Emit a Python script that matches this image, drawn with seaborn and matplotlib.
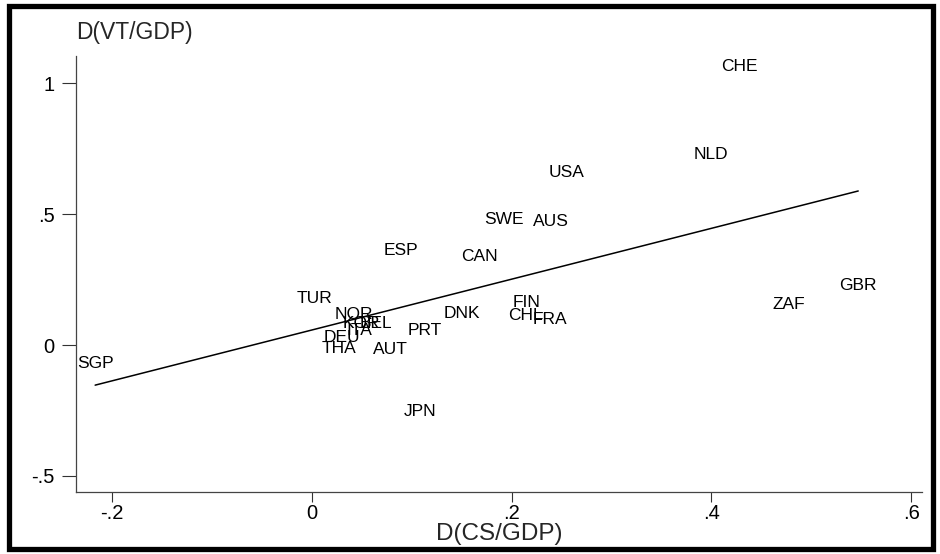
import matplotlib
matplotlib.use('Agg')
import matplotlib.pyplot as plt
import numpy as np
import pandas as pd
import seaborn as sns
from matplotlib.patches import Rectangle

# country codes and values (labels sit centred on the points)
countries = ['CHE', 'NLD', 'USA', 'SWE', 'AUS', 'ESP', 'CAN', 'GBR', 'ZAF', 'TUR',
             'FIN', 'DNK', 'CHL', 'FRA', 'NOR', 'KOR', 'BEL', 'ITA', 'DEU', 'THA',
             'AUT', 'PRT', 'JPN', 'SGP']
d_cs = [0.428, 0.400, 0.255, 0.192, 0.239, 0.089, 0.168, 0.547, 0.478, 0.003,
        0.215, 0.150, 0.214, 0.238, 0.042, 0.050, 0.064, 0.047, 0.030, 0.027,
        0.079, 0.113, 0.108, -0.217]
d_vt = [1.062, 0.728, 0.658, 0.480, 0.471, 0.360, 0.337, 0.226, 0.155, 0.179,
        0.161, 0.121, 0.111, 0.098, 0.118, 0.083, 0.084, 0.057, 0.029, -0.013,
        -0.016, 0.057, -0.255, -0.070]

x_ticks = [-0.2, 0, 0.2, 0.4, 0.6]
x_ticklabels = ['-.2', '0', '.2', '.4', '.6']
y_ticks = [-0.5, 0, 0.5, 1]
y_ticklabels = ['-.5', '0', '.5', '1']

df = pd.DataFrame({'country': countries, 'cs': d_cs, 'vt': d_vt})

sns.set_style('white')
plt.rcParams['font.family'] = ['Liberation Sans', 'DejaVu Sans']

fig = plt.figure(figsize=(9.4, 5.54), dpi=100)
ax = fig.add_axes([0.0805, 0.1125, 0.9005, 0.7865])

# fitted line over the data range
sns.regplot(data=df, x='cs', y='vt', scatter=False, ci=None, truncate=True,
            color='black', line_kws={'lw': 1.1}, ax=ax)

# marker labels only, no symbols
for _, r in df.iterrows():
    ax.text(r['cs'], r['vt'], r['country'], ha='center', va='center',
            fontsize=12.5, color='black')

ax.set_xlim(-0.2365, 0.611)
ax.set_ylim(-0.560, 1.104)
ax.set_xticks(x_ticks)
ax.set_xticklabels(x_ticklabels)
ax.set_yticks(y_ticks)
ax.set_yticklabels(y_ticklabels)
ax.tick_params(axis='x', length=7.5, width=0.8, pad=1.5, labelsize=14.5, colors='#333333',
               labelcolor='black', bottom=True, direction='out')
ax.tick_params(axis='y', length=10, width=0.8, pad=5, labelsize=14.5, colors='#333333',
               labelcolor='black', left=True, direction='out')
ax.set_xlabel('D(CS/GDP)', fontsize=17.5, labelpad=0)
ax.set_ylabel('')
sns.despine(ax=ax, top=True, right=True)
for s in ['left', 'bottom']:
    ax.spines[s].set_color('#444444')
    ax.spines[s].set_linewidth(0.9)

# y title sits horizontally above the axis, Stata style
fig.text(76 / 940, 1 - 33 / 554, 'D(VT/GDP)', ha='left', va='center', fontsize=16.5)

# thick graph-region border
fig.patches.append(Rectangle((9 / 940, 5 / 554), 924 / 940, 543 / 554,
                             transform=fig.transFigure, fill=False,
                             edgecolor='black', lw=3.8))

fig.savefig('out.png', dpi=100)
